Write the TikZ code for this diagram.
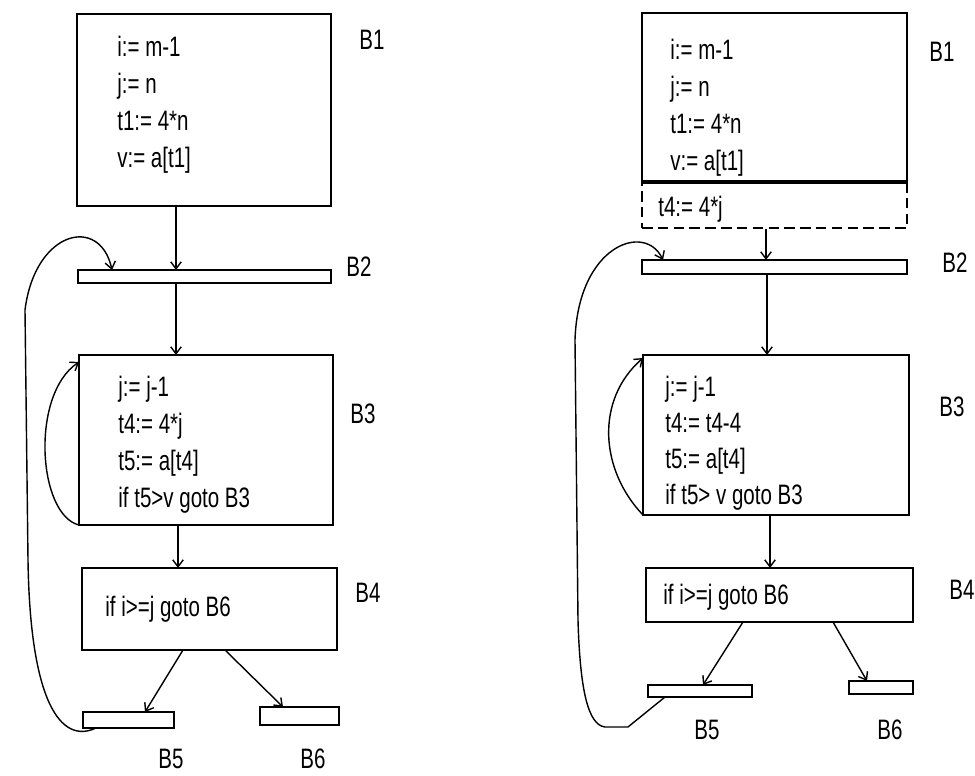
\documentclass[tikz,border=0pt]{standalone}
\usepackage{fontspec}
\setmainfont{Liberation Sans}[FakeStretch=0.73]
\usetikzlibrary{arrows.meta, fit}
\tikzset{
  block/.style={draw, line width=1.4pt, inner sep=0pt, outer sep=0pt},
  code/.style={anchor=base west, inner sep=0pt, font=\fontsize{16}{19}\selectfont},
  tag/.style={inner sep=0pt, font=\fontsize{16}{19}\selectfont},
  flow/.style={line width=0.8pt, -{Straight Barb[length=4pt, width=6pt]}}
}
\begin{document}
\begin{tikzpicture}[x=0.02cm, y=-0.02cm]
\useasboundingbox (0,0) rectangle (975,776);

% ═══════════════════
%  LEFT: original flow graph
% ═══════════
\node[block, fit={(77,14) (331,206)}]  (lb1) {};
\node[block, fit={(78,270) (331,283)}] (lb2) {};
\node[block, fit={(79,355) (333,525)}] (lb3) {};
\node[block, fit={(82,568) (337,650)}] (lb4) {};
\node[block, fit={(83,712) (174,728)}] (lb5) {};
\node[block, fit={(260,707) (339,725)}] (lb6) {};

% code lines
\foreach \t [count=\k] in {i:= m-1, j:= n, t1:= 4*n, v:= a[t1]}
  \node[code] (lb1-\k) at (117,20+37*\k) {\t};
\foreach \t [count=\k] in {j:= j-1, t4:= 4*j, t5:= a[t4], if t5>v goto B3}
  \node[code] (lb3-\k) at (118,360+37*\k) {\t};
\node[code] (lb4-1) at (105,617) {if i>=j goto B6};

% block names
\node[tag] (lab-lb1) at (372,40)  {B1};
\node[tag] (lab-lb2) at (359,267) {B2};
\node[tag] (lab-lb3) at (363,414) {B3};
\node[tag] (lab-lb4) at (368,593) {B4};
\node[tag] (lab-lb5) at (171,759) {B5};
\node[tag] (lab-lb6) at (313,759) {B6};

% edges
\draw[flow] (lb1.south -| 176,0) -- (lb2.north -| 176,0);
\draw[flow] (lb2.south -| 176,0) -- (lb3.north -| 176,0);
\draw[flow] (lb3.south -| 178,0) -- (lb4.north -| 178,0);
\draw[flow] (lb4.south -| 183,0) -- (lb5.north -| 145,0);
\draw[flow] (lb4.south -| 225,0) -- (lb6.north -| 283,0);
% back edges
\draw[flow] (lb3.south west) .. controls (38,515) and (30,395) .. (lb3.north west |- 0,362);
\draw[flow] (lb5.south west -| 96,0) .. controls (60,745) and (30,700) .. (28,560)
  -- (25,310) .. controls (35,230) and (100,215) .. (lb2.north -| 112,0);

% ═══════════════════
%  RIGHT: after strength reduction
% ═══════════
\node[draw, line width=1pt, dash pattern=on 6pt off 3pt, inner sep=0pt,
      fit={(642,182) (907,228)}] (rb1x) {};
\node[block, fit={(642,13) (907,182)}]  (rb1) {};
\draw[line width=2.2pt] (rb1.south west) -- (rb1.south east);
\node[block, fit={(642,260) (907,274)}] (rb2) {};
\node[block, fit={(643,355) (909,515)}] (rb3) {};
\node[block, fit={(646,568) (913,622)}] (rb4) {};
\node[block, fit={(648,685) (752,697)}] (rb5) {};
\node[block, fit={(849,681) (913,694)}] (rb6) {};

% code lines
\foreach \t [count=\k] in {i:= m-1, j:= n, t1:= 4*n, v:= a[t1]}
  \node[code] (rb1-\k) at (670,23+37*\k) {\t};
\node[code] (rb1x-1) at (658,217) {t4:= 4*j};
\foreach \t [count=\k] in {j:= j-1, t4:= t4-4, t5:= a[t4], if t5> v goto B3}
  \node[code] (rb3-\k) at (665,361+36*\k) {\t};
\node[code] (rb4-1) at (663,605) {if i>=j goto B6};

% block names
\node[tag] (lab-rb1) at (942,52)  {B1};
\node[tag] (lab-rb2) at (955,263) {B2};
\node[tag] (lab-rb3) at (952,407) {B3};
\node[tag] (lab-rb4) at (962,590) {B4};
\node[tag] (lab-rb5) at (707,730) {B5};
\node[tag] (lab-rb6) at (890,730) {B6};

% edges
\draw[flow] (rb1x.south -| 766,0) -- (rb2.north -| 766,0);
\draw[flow] (rb2.south -| 767,0) -- (rb3.north -| 767,0);
\draw[flow] (rb3.south -| 770,0) -- (rb4.north -| 770,0);
\draw[flow] (rb4.south -| 743,0) -- (rb5.north -| 703,0);
\draw[flow] (rb4.south -| 833,0) -- (rb6.north -| 867,0);
% back edges
\draw[flow] (rb3.south west) .. controls (600,470) and (595,400) .. (rb3.north west |- 0,358);
\draw[flow] (rb5.south west -| 665,0) -- (628,727) -- (605,727)
  .. controls (588,725) and (580,690) .. (578,620) -- (575,340)
  .. controls (578,245) and (645,222) .. (rb2.north -| 663,0);

\end{tikzpicture}
\end{document}
